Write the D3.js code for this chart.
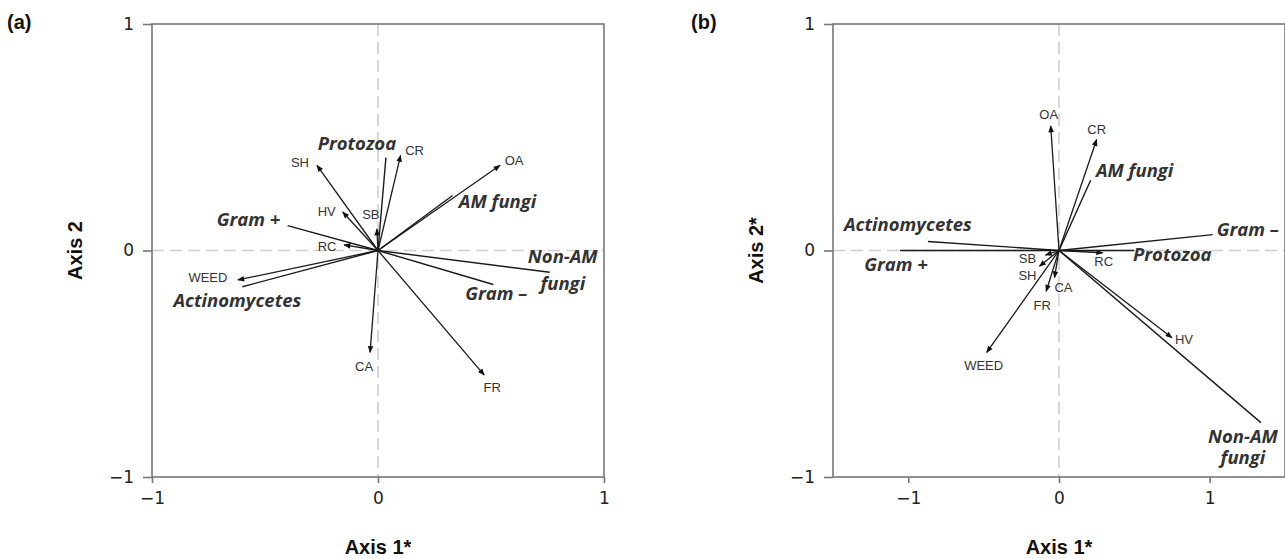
<!DOCTYPE html>
<html>
<head>
<meta charset="utf-8">
<script src="https://cdn.jsdelivr.net/npm/d3@7"></script>
<style>
  body { margin: 0; background: #fff; }
  .tick text { font-family: "DejaVu Sans", sans-serif; font-size: 17px; fill: #222; }
  .trt { font-family: "Liberation Sans", Arial, sans-serif; font-size: 13px; fill: #333; }
  .grp { font-family: "Open Sans", sans-serif; font-size: 18.5px; font-weight: 700; font-style: italic; fill: #333; }
  .title { font-family: "Liberation Sans", Arial, sans-serif; font-size: 20px; font-weight: 700; fill: #111; }
</style>
</head>
<body>
<div id="chart"></div>
<script>
// treatment vectors (arrows)
const treatments = ["SH", "CR", "OA", "HV", "SB", "RC", "WEED", "CA", "FR"];
const treatA1 = [-0.27, 0.10, 0.54, -0.156, -0.005, -0.15, -0.62, -0.035, 0.47];
const treatA2 = [0.376, 0.42, 0.376, 0.17, 0.095, 0.025, -0.13, -0.45, -0.55];
const treatB1 = [-0.13, 0.25, -0.055, 0.75, -0.09, 0.29, -0.48, -0.03, -0.085];
const treatB2 = [-0.07, 0.49, 0.55, -0.385, -0.02, -0.01, -0.45, -0.12, -0.18];

// microbial groups (plain lines)
const groups = ["Protozoa", "AM fungi", "Gram +", "Actinomycetes", "Gram \u2013", "Non-AM fungi"];
const groupA1 = [0.035, 0.33, -0.40, -0.60, 0.51, 0.76];
const groupA2 = [0.41, 0.243, 0.11, -0.16, -0.15, -0.096];
const groupB1 = [0.50, 0.21, -1.055, -0.87, 1.02, 1.34];
const groupB2 = [0.0, 0.31, 0.0, 0.04, 0.07, -0.76];

const xTicks = [-1, 0, 1];
const yTicks = [-1, 0, 1];

// label placement (pixel offsets from the vector tip)
const labelPos = {
  a: {
    SH: [-17, -3], CR: [14, -5], OA: [14, -5], HV: [-16, -1], SB: [-6, -15],
    RC: [-17, 2], WEED: [-30, -2], CA: [-6, 14], FR: [8, 12],
    "Protozoa": [-29, -14], "AM fungi": [45, 6], "Gram +": [-39, -6],
    "Actinomycetes": [-5, 14], "Gram \u2013": [3, 9], "Non-AM fungi": [13, -16]
  },
  b: {
    SH: [-12, 9], CR: [0, -10], OA: [-2, -11], HV: [12, 2], SB: [-18, 3],
    RC: [1, 9], WEED: [-3, 13], CA: [9, 10], FR: [-4, 14],
    "Protozoa": [38, 4], "AM fungi": [44, -10], "Gram +": [-4, 14],
    "Actinomycetes": [-20, -17], "Gram \u2013": [35, -5], "Non-AM fungi": [-18, 14]
  }
};

const W = 1285, H = 559;
const plotTop = 24, plotH = 453, plotW = 452;

const svg = d3.select("#chart").append("svg")
  .attr("width", W).attr("height", H);

svg.append("defs").append("marker")
  .attr("id", "arrow")
  .attr("viewBox", "0 0 10 10")
  .attr("refX", 9).attr("refY", 5)
  .attr("markerWidth", 8).attr("markerHeight", 7)
  .attr("markerUnits", "userSpaceOnUse")
  .attr("orient", "auto")
  .append("path")
  .attr("d", "M0,1 L10,5 L0,9 Z")
  .attr("fill", "#111");

const panels = [
  { key: "a", left: 152, xDomain: [-1, 1], t1: treatA1, t2: treatA2, g1: groupA1, g2: groupA2,
    xTitle: "Axis 1*", yTitle: "Axis 2", tag: "(a)", tagX: 7, lineGap: "1.45em" },
  { key: "b", left: 833, xDomain: [-1.5, 1.5], t1: treatB1, t2: treatB2, g1: groupB1, g2: groupB2,
    xTitle: "Axis 1*", yTitle: "Axis 2*", tag: "(b)", tagX: 691, lineGap: "1.15em" }
];

panels.forEach(p => {
  const g = svg.append("g").attr("transform", `translate(${p.left},${plotTop})`);
  const x = d3.scaleLinear().domain(p.xDomain).range([0, plotW]);
  const y = d3.scaleLinear().domain([-1, 1]).range([plotH, 0]);
  const offs = labelPos[p.key];

  // zero reference lines
  g.append("line")
    .attr("x1", x(0)).attr("x2", x(0)).attr("y1", 0).attr("y2", plotH)
    .attr("stroke", "#cfcfcf").attr("stroke-width", 1.6).attr("stroke-dasharray", "12,6");
  g.append("line")
    .attr("x1", 0).attr("x2", plotW).attr("y1", y(0)).attr("y2", y(0))
    .attr("stroke", "#cfcfcf").attr("stroke-width", 1.6).attr("stroke-dasharray", "12,6");

  // axes
  const fmt = d3.format("d");
  const xAxis = g.append("g").attr("transform", `translate(0,${plotH})`)
    .call(d3.axisBottom(x).tickValues(xTicks).tickFormat(fmt).tickSize(6).tickSizeOuter(0).tickPadding(9));
  const yAxis = g.append("g")
    .call(d3.axisLeft(y).tickValues(yTicks).tickFormat(fmt).tickSize(9).tickSizeOuter(0).tickPadding(9));
  [xAxis, yAxis].forEach(a => {
    a.select(".domain").remove();
    a.selectAll(".tick line").attr("stroke", "#777").attr("stroke-width", 1.6);
  });

  // frame
  g.append("rect")
    .attr("width", plotW).attr("height", plotH)
    .attr("fill", "none").attr("stroke", "#777").attr("stroke-width", 1.6);

  // group lines
  const gData = groups.map((name, i) => ({ name, v1: p.g1[i], v2: p.g2[i] }));
  g.selectAll(".gline").data(gData).enter().append("line")
    .attr("class", "gline")
    .attr("x1", x(0)).attr("y1", y(0))
    .attr("x2", d => x(d.v1)).attr("y2", d => y(d.v2))
    .attr("stroke", "#1a1a1a").attr("stroke-width", 1.4);

  // treatment arrows
  const tData = treatments.map((name, i) => ({ name, v1: p.t1[i], v2: p.t2[i] }));
  g.selectAll(".tline").data(tData).enter().append("line")
    .attr("class", "tline")
    .attr("x1", x(0)).attr("y1", y(0))
    .attr("x2", d => x(d.v1)).attr("y2", d => y(d.v2))
    .attr("stroke", "#1a1a1a").attr("stroke-width", 1.3)
    .attr("marker-end", "url(#arrow)");

  g.selectAll(".trt").data(tData).enter().append("text")
    .attr("class", "trt")
    .attr("text-anchor", "middle")
    .attr("dy", "0.35em")
    .attr("x", d => x(d.v1) + offs[d.name][0])
    .attr("y", d => y(d.v2) + offs[d.name][1])
    .text(d => d.name);

  const gl = g.selectAll(".grp").data(gData).enter().append("text")
    .attr("class", "grp")
    .attr("text-anchor", "middle")
    .attr("x", d => x(d.v1) + offs[d.name][0])
    .attr("y", d => y(d.v2) + offs[d.name][1]);
  gl.each(function(d) {
    const parts = d.name === "Non-AM fungi" ? ["Non-AM", "fungi"] : [d.name];
    d3.select(this).selectAll("tspan").data(parts).enter().append("tspan")
      .attr("x", x(d.v1) + offs[d.name][0])
      .attr("dy", (s, j) => j === 0 ? "0.35em" : p.lineGap)
      .text(s => s);
  });

  // titles
  svg.append("text").attr("class", "title")
    .attr("text-anchor", "middle")
    .attr("x", p.left + x(0)).attr("y", 554)
    .text(p.xTitle);
  svg.append("text").attr("class", "title")
    .attr("text-anchor", "middle")
    .attr("transform", `translate(${p.left - 70},${plotTop + plotH / 2}) rotate(-90)`)
    .text(p.yTitle);
  svg.append("text").attr("class", "title")
    .attr("x", p.tagX).attr("y", 29)
    .text(p.tag);
});
</script>
</body>
</html>
